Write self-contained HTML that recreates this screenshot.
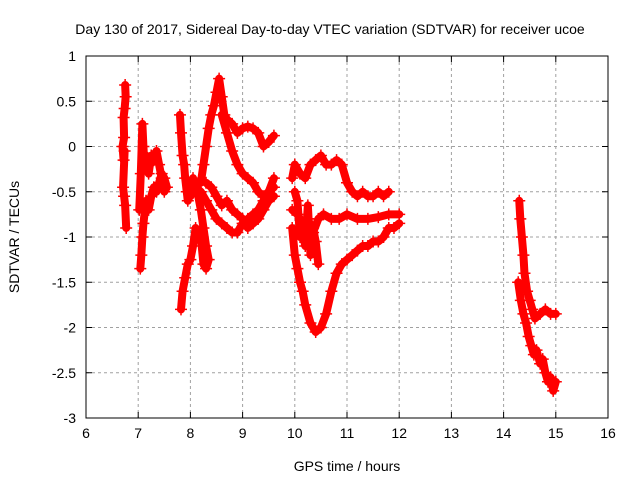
<!DOCTYPE html>
<html><head><meta charset="utf-8"><style>
body{margin:0;background:#fff;}
svg{display:block;font-family:"Liberation Sans",sans-serif;}
</style></head><body>
<svg id="chart" width="640" height="480" xmlns="http://www.w3.org/2000/svg">
<rect x="0" y="0" width="640" height="480" fill="#fff"/>
<text x="330" y="34" font-size="14" text-anchor="middle">Day 130 of 2017, Sidereal Day-to-day VTEC variation (SDTVAR) for receiver ucoe</text>
<text x="0" y="0" font-size="14" text-anchor="middle" transform="translate(19,237) rotate(-90)">SDTVAR / TECUs</text>
<text x="347" y="471" font-size="14" text-anchor="middle">GPS time / hours</text>
<g id="grid"></g><g id="ticks"></g><g id="marks"></g>
<rect x="86" y="56" width="522" height="362" fill="none" stroke="#000" stroke-width="1"/>
</svg>
<script>
const xTicks=[6,7,8,9,10,11,12,13,14,15,16];
const yTicks=[1,0.5,0,-0.5,-1,-1.5,-2,-2.5,-3];
const t1x=[6.75,6.76,6.74,6.72,6.73,6.70,6.72,6.74,6.71,6.73,6.75,6.77];
const t1y=[0.68,0.55,0.42,0.32,0.1,0.0,-0.15,-0.05,-0.45,-0.55,-0.65,-0.9];
const t2x=[7.02,7.05,7.08,7.1,7.12,7.15,7.2,7.25,7.3,7.35,7.4,7.45,7.5,7.55,7.5,7.45,7.4,7.35,7.3,7.25,7.2,7.15,7.1,7.08,7.06,7.04];
const t2y=[-0.7,-0.3,0.25,0.0,-0.2,-0.1,-0.3,-0.1,-0.15,-0.05,-0.2,-0.35,-0.5,-0.45,-0.35,-0.3,-0.4,-0.5,-0.45,-0.55,-0.7,-0.6,-0.85,-1.0,-1.2,-1.35];
const t3x=[7.8,7.82,7.85,7.88,7.9,7.93,7.95,7.98,8.0,8.03,8.05,8.08,8.1,8.15,8.2,8.25,8.3,8.35,8.3,8.25,8.2,8.15,8.1,8.05,8.0,7.95,7.9,7.85,7.82];
const t3y=[0.35,0.15,-0.1,-0.2,-0.35,-0.5,-0.6,-0.45,-0.55,-0.4,-0.35,-0.45,-0.4,-0.55,-0.7,-0.9,-1.1,-1.25,-1.35,-1.3,-1.0,-0.95,-0.9,-1.1,-1.25,-1.3,-1.45,-1.6,-1.8];
const t4x=[8.2,8.25,8.3,8.35,8.4,8.45,8.5,8.55,8.6,8.65,8.7,8.8,8.9,9.0,9.1,9.2,9.3,9.4,9.5,9.6];
const t4y=[-0.4,-0.2,0.0,0.2,0.35,0.45,0.6,0.75,0.55,0.35,0.3,0.25,0.15,0.2,0.22,0.2,0.15,0.0,0.05,0.12];
const t5x=[8.6,8.7,8.8,8.9,9.0,9.1,9.2,9.3,9.4,9.5,9.6];
const t5y=[0.35,0.15,-0.05,-0.2,-0.3,-0.35,-0.4,-0.5,-0.55,-0.5,-0.45];
const t6x=[8.0,8.1,8.2,8.3,8.4,8.5,8.6,8.7,8.8,8.9,9.0,9.1,9.2,9.3,9.4,9.5,9.6];
const t6y=[-0.4,-0.45,-0.5,-0.6,-0.7,-0.8,-0.85,-0.9,-0.95,-0.95,-0.85,-0.8,-0.75,-0.7,-0.6,-0.5,-0.35];
const t7x=[8.3,8.4,8.5,8.6,8.7,8.8,8.9,9.0,9.1,9.2,9.3,9.4,9.5,9.6];
const t7y=[-0.4,-0.45,-0.55,-0.65,-0.6,-0.7,-0.75,-0.8,-0.9,-0.85,-0.8,-0.7,-0.6,-0.55];
const t8x=[9.95,10.0,10.1,10.2,10.3,10.4,10.5,10.6,10.7,10.8,10.9,11.0,11.1,11.2,11.3,11.4,11.5,11.6,11.7,11.8];
const t8y=[-0.35,-0.2,-0.3,-0.35,-0.2,-0.15,-0.1,-0.2,-0.2,-0.15,-0.2,-0.4,-0.5,-0.55,-0.5,-0.55,-0.55,-0.5,-0.55,-0.5];
const t9x=[9.95,10.05,10.15,10.25,10.35,10.45,10.55,10.7,10.85,11.0,11.2,11.4,11.6,11.8,12.0];
const t9y=[-0.7,-0.75,-0.85,-0.8,-0.95,-0.8,-0.75,-0.8,-0.8,-0.75,-0.8,-0.8,-0.78,-0.75,-0.75];
const t10x=[9.95,10.0,10.05,10.1,10.15,10.2,10.3,10.4,10.5,10.6,10.7,10.8,10.9,11.0,11.1,11.2,11.3,11.4,11.5,11.6,11.7,11.8,11.9,12.0];
const t10y=[-0.9,-1.2,-1.35,-1.5,-1.6,-1.75,-1.95,-2.05,-2.0,-1.85,-1.6,-1.4,-1.3,-1.25,-1.2,-1.15,-1.1,-1.1,-1.05,-1.05,-1.0,-0.9,-0.9,-0.85];
const t11x=[10.0,10.05,10.1,10.15,10.2,10.25,10.3,10.35,10.4,10.45];
const t11y=[-0.5,-0.6,-1.0,-0.95,-1.1,-0.65,-1.2,-0.9,-1.05,-1.3];
const t12x=[14.3,14.32,14.35,14.38,14.4,14.45,14.5,14.55,14.6,14.7,14.8,14.9,15.0];
const t12y=[-0.6,-0.8,-1.0,-1.2,-1.4,-1.6,-1.7,-1.8,-1.9,-1.85,-1.8,-1.85,-1.85];
const t13x=[14.28,14.33,14.38,14.43,14.48,14.53,14.58,14.63,14.7,14.75,14.8,14.85,14.9,14.95,15.0];
const t13y=[-1.5,-1.7,-1.85,-1.95,-2.1,-2.2,-2.3,-2.25,-2.4,-2.35,-2.5,-2.6,-2.55,-2.7,-2.6];
const tracks=[[t1x,t1y],[t2x,t2y],[t3x,t3y],[t4x,t4y],[t5x,t5y],[t6x,t6y],[t7x,t7y],[t8x,t8y],[t9x,t9y],[t10x,t10y],[t11x,t11y],[t12x,t12y],[t13x,t13y]];

const NS="http://www.w3.org/2000/svg";
const X0=86,X1=608,Y0=56,Y1=418;
function sx(v){return X0+(v-6)/10*(X1-X0);}
function sy(v){return Y0+(1-v)/4*(Y1-Y0);}
function mk(tag,attrs,parent){const e=document.createElementNS(NS,tag);for(const k in attrs)e.setAttribute(k,attrs[k]);parent.appendChild(e);return e;}
const grid=document.getElementById('grid'),ticks=document.getElementById('ticks'),marks=document.getElementById('marks');
xTicks.forEach(v=>{
  const x=sx(v);
  if(v>6&&v<16){const g=mk('line',{x1:x,y1:Y0,x2:x,y2:Y1,stroke:'#a0a0a0','stroke-dasharray':'3,3'},grid);
  
  }
  mk('line',{x1:x,y1:Y1,x2:x,y2:Y1-6,stroke:'#000'},ticks);
  mk('line',{x1:x,y1:Y0,x2:x,y2:Y0+6,stroke:'#000'},ticks);
  const t=mk('text',{x:x,y:Y1+20,'font-size':14,'text-anchor':'middle'},ticks);
  t.textContent=v;
  
  
});
yTicks.forEach(v=>{
  const y=sy(v);
  if(v<1&&v>-3){const g=mk('line',{x1:X0,y1:y,x2:X1,y2:y,stroke:'#a0a0a0','stroke-dasharray':'3,3'},grid);
  
  }
  mk('line',{x1:X0,y1:y,x2:X0+6,y2:y,stroke:'#000'},ticks);
  mk('line',{x1:X1,y1:y,x2:X1-6,y2:y,stroke:'#000'},ticks);
  const t=mk('text',{x:X0-10,y:y+5,'font-size':14,'text-anchor':'end'},ticks);
  t.textContent=v;
  
  
});
tracks.forEach((tr,i)=>{
  const xs=tr[0],ys=tr[1];
  const pts=xs.map((x,j)=>sx(x)+','+sy(ys[j])).join(' ');
  const pl=mk('polyline',{points:pts,fill:'none',stroke:'#ff0000','stroke-width':8,'stroke-linejoin':'round','stroke-linecap':'round'},marks);
  
  
  xs.forEach((x,j)=>{
    const px=sx(x),py=sy(ys[j]);
    const p=mk('path',{d:`M${px-6},${py}H${px+6}M${px},${py-6}V${py+6}`,stroke:'#ff0000','stroke-width':1.5},marks);
    
    
  });
});
</script>
</body></html>
